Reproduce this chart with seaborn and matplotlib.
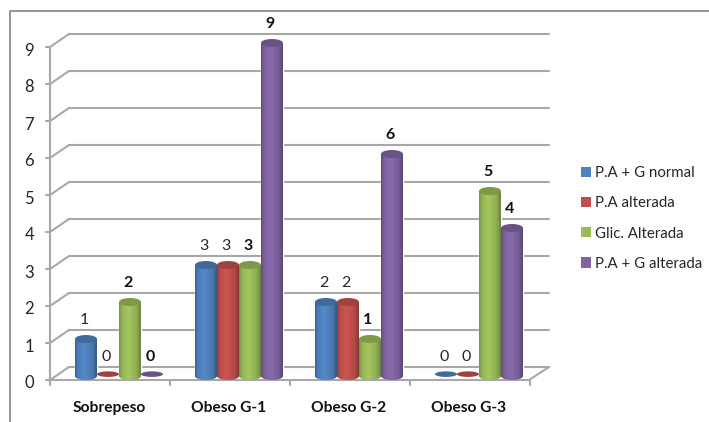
import numpy as np
import pandas as pd
import matplotlib
matplotlib.use("Agg")
import matplotlib.pyplot as plt
from matplotlib.lines import Line2D
from matplotlib.patches import Ellipse, Patch
from matplotlib.path import Path
from matplotlib.transforms import Affine2D
import seaborn as sns

categories = ["Sobrepeso", "Obeso G-1", "Obeso G-2", "Obeso G-3"]
series_names = ["P.A + G normal", "P.A alterada", "Glic. Alterada", "P.A + G alterada"]
pa_g_normal = [1, 3, 2, 0]
pa_alterada = [0, 3, 2, 0]
glic_alterada = [2, 3, 1, 5]
pa_g_alterada = [0, 9, 6, 4]
y_ticks = list(range(10))

colors = ["#4F81BD", "#C0504D", "#9BBB59", "#8064A2"]
grid_color = "#A8A8A8"
text_color = "#262626"

sns.set_theme(style="white")
plt.rcParams["font.family"] = ["Lato", "DejaVu Sans"]

W, H = 709, 422
fig = plt.figure(figsize=(W / 100, H / 100), dpi=100, facecolor="white")

# The axes stand on the mid-depth plane of the 3D box; walls are pixel offsets from it.
left, right, base, top = 59, 539, 376, 43
ax = fig.add_axes([left / W, (H - base) / H, (right - left) / W, (base - top) / H])
ax.patch.set_visible(False)

frame = pd.DataFrame({
    "category": categories * 4,
    "series": np.repeat(series_names, 4),
    "value": pa_g_normal + pa_alterada + glic_alterada + pa_g_alterada,
})
sns.barplot(data=frame, x="category", y="value", hue="series", hue_order=series_names,
            order=categories, palette=colors, width=0.733, gap=0, saturation=1,
            legend=False, ax=ax, zorder=3)
ax.set_xlim(-0.5, 3.5)
ax.set_ylim(0, 9)
sns.despine(ax=ax, left=True, bottom=True)
ax.set_xlabel("")
ax.set_ylabel("")


def shift(dx, dy):
    return ax.transData + Affine2D().translate(dx, dy)


to_front = shift(-9, -4)
to_back = shift(10, 9)


def grey(xs, ys, transform, zorder=1):
    ax.add_line(Line2D(xs, ys, color=grid_color, lw=1.5, transform=transform,
                       clip_on=False, zorder=zorder, solid_capstyle="round"))


# Back wall, side wall and floor
for v in y_ticks:
    grey([-0.5, 3.5], [v, v], to_back)
    x0_back = ax.transData.transform((-0.5, v)) + (10, 9)
    x0_front = ax.transData.transform((-0.5, v)) + (-9, -4)
    xy = np.array([x0_front, x0_back])
    ax.add_line(Line2D(xy[:, 0], xy[:, 1], color=grid_color, lw=1.5, transform=None,
                       clip_on=False, zorder=1))
floor_right_back = ax.transData.transform((3.5, 0)) + (10, 9)
floor_right_front = ax.transData.transform((3.5, 0)) + (-10, -4)
xy = np.array([floor_right_front, floor_right_back])
ax.add_line(Line2D(xy[:, 0], xy[:, 1], color=grid_color, lw=1.5, transform=None,
                   clip_on=False, zorder=1))

# Front axis lines with their tick marks
grey([-0.5, -0.5], [0, 9], to_front, zorder=2)
grey([-0.5, 3.5], [0, 0], to_front, zorder=2)
for edge in np.arange(-0.5, 3.6, 1):
    p = ax.transData.transform((edge, 0)) + (-9, -4)
    ax.add_line(Line2D([p[0], p[0]], [p[1], p[1] - 5], color=grid_color, lw=1.5,
                       transform=None, clip_on=False, zorder=2))
for v in y_ticks:
    p = ax.transData.transform((-0.5, v)) + (-9, -4)
    ax.add_line(Line2D([p[0] - 4, p[0]], [p[1], p[1]], color=grid_color, lw=1.5,
                       transform=None, clip_on=False, zorder=2))

ax.set_yticks(y_ticks)
ax.set_yticklabels([str(v) for v in y_ticks])
ax.tick_params(axis="y", length=0, pad=18, labelsize=12, labelcolor=text_color)
ax.tick_params(axis="x", length=0, pad=18, labelsize=11.2, labelcolor="#111111")
for lab in ax.get_yticklabels():
    lab.set_transform(lab.get_transform() + Affine2D().translate(0, -6))
for lab in ax.get_xticklabels():
    lab.set_transform(lab.get_transform() + Affine2D().translate(-10, 0))
    lab.set_fontweight("bold")


def shaded(color):
    # Horizontal shading across a cylinder: dark rims, highlight left of centre
    rgb = np.array(matplotlib.colors.to_rgb(color))
    stops = np.array([0.0, 0.12, 0.42, 0.8, 1.0])
    gains = np.array([0.76, 0.95, 1.07, 0.93, 0.70])
    t = np.linspace(0, 1, 64)
    g = np.interp(t, stops, gains)
    return np.clip(rgb[None, None, :] * g[None, :, None], 0, 1)


cap_h = 8 / 37
for s, container in enumerate(ax.containers):
    color = colors[s]
    grad = shaded(color)
    for bar in container:
        x, w, h = bar.get_x(), bar.get_width(), bar.get_height()
        cx = x + w / 2
        if h > 0:
            theta = np.linspace(np.pi, 2 * np.pi, 30)
            arc_x = cx + w / 2 * np.cos(theta)
            arc_y = cap_h / 2 * np.sin(theta)
            outline = np.vstack([[x, h], np.column_stack([arc_x, arc_y]), [x + w, h], [x, h]])
            im = ax.imshow(grad, extent=(x, x + w, -cap_h, h), aspect="auto",
                           interpolation="bilinear", zorder=4 + s)
            im.set_clip_box(fig.bbox)
            im.set_clip_path(Path(outline), transform=ax.transData)
        cap_color = tuple(np.array(matplotlib.colors.to_rgb(color)) * 0.82)
        ax.add_patch(Ellipse((cx, h + (0.05 if h == 0 else 0)), w, cap_h if h > 0 else cap_h * 0.7,
                             facecolor=cap_color, edgecolor="none",
                             zorder=4.5 + s, clip_on=False))
        ax.annotate(f"{h:.0f}", (cx, h), xytext=(-2, 19), textcoords="offset pixels",
                    ha="center", va="center", fontsize=11.5, color=text_color if s < 2 else "#111111",
                    fontweight="normal" if s < 2 else "bold", zorder=12)

ax.set_xlim(-0.5, 3.5)
ax.set_ylim(0, 9)

handles = [Patch(facecolor=c, edgecolor="none", label=n) for c, n in zip(colors, series_names)]
fig.legend(handles=handles, loc="center left", bbox_to_anchor=(580.5 / W, 1 - 218.5 / H),
           frameon=False, fontsize=10.8, handlelength=0.68, handleheight=0.68, handletextpad=0.3,
           labelspacing=1.08, borderpad=0, borderaxespad=0, labelcolor=text_color)

# Outer chart border, cropped on the right and bottom
fig.add_artist(Line2D([10 / W, 10 / W, 1], [0, 1 - 11 / H, 1 - 11 / H],
                      color="#8C8C8C", lw=1.3, transform=fig.transFigure))

fig.savefig("out.png", dpi=100, facecolor="white")
